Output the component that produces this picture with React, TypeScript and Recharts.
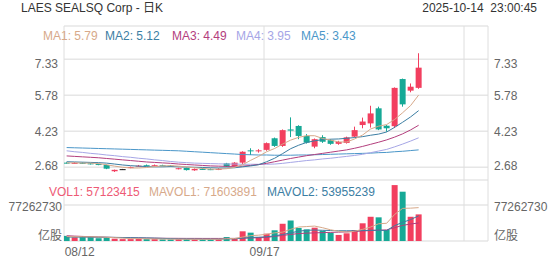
import React from "react";
import { ComposedChart, Bar, Line, XAxis, YAxis, CartesianGrid, Cell } from "recharts";

const dates = [
  "08/12", "08/13", "08/14", "08/15", "08/18", "08/19", "08/20", "08/21", "08/22",
  "08/25", "08/26", "08/27", "08/28", "08/29", "09/02", "09/03", "09/04", "09/05",
  "09/08", "09/09", "09/10", "09/11", "09/12", "09/15", "09/16", "09/17", "09/18",
  "09/19", "09/22", "09/23", "09/24", "09/25", "09/26", "09/29", "09/30", "10/01",
  "10/02", "10/03", "10/06", "10/07", "10/08", "10/09", "10/10", "10/13", "10/14",
];

const open = [
  2.88, 2.86, 2.87, 2.85, 2.82, 2.78, 2.51, 2.6, 2.66, 2.73, 2.77, 2.76, 2.77, 2.75, 2.62,
  2.65, 2.55, 2.61, 2.6, 2.58, 2.85, 2.73, 2.88, 3.41, 3.39, 3.43, 3.93, 3.6, 4.31, 4.46,
  4.03, 3.57, 3.98, 3.85, 3.69, 3.73, 4.0, 4.5, 4.57, 5.22, 4.47, 4.45, 6.48, 5.98, 6.1,
];
const high = [
  2.9, 2.9, 2.89, 2.87, 2.84, 2.8, 2.58, 2.61, 2.71, 2.78, 2.8, 2.8, 2.79, 2.77, 2.66,
  2.67, 2.63, 2.64, 2.63, 2.64, 2.87, 2.9, 3.37, 3.5, 3.46, 3.75, 3.96, 4.31, 4.83, 4.49,
  4.11, 3.92, 4.06, 3.89, 3.82, 4.0, 4.43, 4.82, 5.33, 5.29, 4.5, 6.12, 6.5, 6.29, 7.59,
];
const low = [
  2.84, 2.84, 2.83, 2.8, 2.77, 2.6, 2.48, 2.59, 2.64, 2.71, 2.73, 2.74, 2.73, 2.72, 2.59,
  2.54, 2.53, 2.57, 2.56, 2.56, 2.69, 2.71, 2.81, 3.21, 3.31, 3.39, 3.56, 3.56, 3.98, 3.89,
  3.7, 3.5, 3.73, 3.65, 3.65, 3.7, 3.97, 4.36, 4.39, 4.28, 4.21, 4.37, 5.29, 5.91, 6.06,
];
const close = [
  2.86, 2.87, 2.85, 2.82, 2.79, 2.62, 2.57, 2.6, 2.69, 2.75, 2.76, 2.77, 2.75, 2.74, 2.64,
  2.56, 2.61, 2.6, 2.59, 2.61, 2.71, 2.88, 3.35, 3.39, 3.41, 3.72, 3.6, 4.28, 4.26, 4.03,
  3.74, 3.89, 3.78, 3.69, 3.77, 3.97, 4.28, 4.65, 5.0, 4.31, 4.36, 6.1, 5.39, 6.15, 6.97,
];

const ma1 = [
  2.87, 2.87, 2.86, 2.86, 2.84, 2.79, 2.73, 2.68, 2.65, 2.65, 2.67, 2.71, 2.74, 2.75, 2.73,
  2.69, 2.66, 2.63, 2.6, 2.6, 2.62, 2.68, 2.79, 2.98, 3.15, 3.35, 3.49, 3.68, 3.85, 3.97,
  4.04, 4.04, 3.92, 3.85, 3.77, 3.77, 3.9, 4.07, 4.33, 4.45, 4.52, 4.74, 5.03, 5.34, 5.79,
];
const ma2 = [
  2.92, 2.91, 2.9, 2.89, 2.88, 2.86, 2.82, 2.78, 2.75, 2.73, 2.71, 2.7, 2.7, 2.71, 2.7,
  2.69, 2.68, 2.67, 2.66, 2.65, 2.65, 2.66, 2.7, 2.74, 2.79, 2.92, 3.07, 3.27, 3.48, 3.63,
  3.75, 3.82, 3.87, 3.89, 3.9, 3.93, 3.96, 4.0, 4.06, 4.11, 4.2, 4.4, 4.62, 4.85, 5.12,
];
const ma3 = [
  3.17, 3.15, 3.13, 3.11, 3.09, 3.06, 3.03, 3.0, 2.97, 2.94, 2.91, 2.89, 2.87, 2.85, 2.82,
  2.8, 2.78, 2.76, 2.74, 2.73, 2.72, 2.72, 2.73, 2.76, 2.8, 2.85, 2.92, 2.99, 3.06, 3.12,
  3.18, 3.23, 3.28, 3.33, 3.38, 3.43, 3.5, 3.58, 3.67, 3.76, 3.86, 3.98, 4.12, 4.29, 4.49,
];
const ma4 = [
  3.39, 3.35, 3.32, 3.28, 3.25, 3.21, 3.18, 3.14, 3.11, 3.07, 3.04, 3.0, 2.97, 2.93, 2.9,
  2.88, 2.86, 2.85, 2.84, 2.83, 2.82, 2.82, 2.81, 2.81, 2.81, 2.81, 2.82, 2.85, 2.89, 2.93,
  2.97, 3.0, 3.04, 3.07, 3.11, 3.15, 3.19, 3.24, 3.31, 3.38, 3.45, 3.56, 3.68, 3.81, 3.95,
];
const ma5 = [
  3.53, 3.52, 3.51, 3.5, 3.49, 3.48, 3.47, 3.46, 3.45, 3.44, 3.43, 3.42, 3.41, 3.4, 3.39,
  3.37, 3.35, 3.33, 3.31, 3.29, 3.27, 3.25, 3.23, 3.22, 3.21, 3.21, 3.2, 3.2, 3.2, 3.21,
  3.21, 3.22, 3.23, 3.24, 3.25, 3.26, 3.27, 3.28, 3.29, 3.31, 3.32, 3.35, 3.37, 3.4, 3.43,
];

const volume = [
  11000000, 8000000, 10000000, 9000000, 6000000, 7000000, 5000000, 4000000, 4000000,
  5000000, 4000000, 4000000, 3500000, 3500000, 4000000, 4000000, 3500000, 3500000,
  3500000, 4000000, 8500000, 5500000, 20800000, 17900000, 8600000, 15700000, 23000000,
  37000000, 44000000, 28000000, 25000000, 28600000, 22000000, 17800000, 13000000,
  16500000, 23600000, 38000000, 52000000, 50800000, 23600000, 120000000, 105800000,
  52000000, 57123415,
];
const mavol1 = [
  9500000, 9300000, 9200000, 9000000, 8800000, 8000000, 7200000, 6200000, 5200000,
  5000000, 4600000, 4300000, 4100000, 3900000, 3800000, 3800000, 3700000, 3700000,
  3700000, 3700000, 4800000, 5300000, 8500000, 11500000, 12500000, 14500000, 17500000,
  19000000, 25000000, 30000000, 31000000, 32000000, 28500000, 24000000, 21000000,
  19000000, 21000000, 25000000, 30000000, 37000000, 38000000, 57000000, 70000000,
  70500000, 71603891,
];
const mavol2 = [
  8500000, 8400000, 8300000, 8200000, 8100000, 8000000, 7800000, 7500000, 7100000,
  6900000, 6600000, 6200000, 5700000, 5000000, 4500000, 4300000, 4100000, 4000000,
  3900000, 3900000, 4400000, 4600000, 6200000, 7600000, 8100000, 9100000, 11000000,
  14000000, 17500000, 21000000, 23000000, 23500000, 23000000, 22500000, 22000000,
  22000000, 22000000, 22500000, 23000000, 23000000, 22500000, 33000000, 40000000,
  46000000, 53955239,
];
const mavol3 = [
  11300000, 10500000, 9800000, 9200000, 8600000, 8100000, 7600000, 7200000, 6900000,
  6600000, 6300000, 6100000, 5900000, 5800000, 5700000, 5600000, 5600000, 5500000,
  5500000, 5500000, 5600000, 5600000, 6100000, 6600000, 7000000, 7600000, 10000000,
  12000000, 14000000, 16000000, 16800000, 17500000, 18000000, 18500000, 19000000,
  19600000, 20500000, 21500000, 22500000, 23200000, 23800000, 28500000, 33500000,
  36500000, 38600000,
];

const priceTicks = [2.68, 4.23, 5.78, 7.33];
const volTicks = [0, 77262730];
const dateTicks = [0, 25];

const UP = "#f23f5f";
const DOWN = "#16a996";
const MA_COLORS = ["#d7a98a", "#3c7ea3", "#b33e7d", "#a6a6e6", "#4b97c9"];
const GRID = "#e6e6e6";
const FONT = '"Liberation Sans", Arial, "Noto Sans CJK SC", sans-serif';

const rows = dates.map((d, i) => ({
  i,
  date: d,
  open: open[i],
  high: high[i],
  low: low[i],
  close: close[i],
  range: [low[i], high[i]],
  ma1: ma1[i],
  ma2: ma2[i],
  ma3: ma3[i],
  ma4: ma4[i],
  ma5: ma5[i],
  vol: volume[i],
  mavol1: mavol1[i],
  mavol2: mavol2[i],
  mavol3: mavol3[i],
}));

const candleColor = (o: number, c: number) => (c > o ? UP : c < o ? DOWN : "#111");

function Candle(props: any) {
  const { x, y, width, height, payload } = props;
  const top = Math.min(y, y + height);
  const h = Math.abs(height);
  const span = payload.high - payload.low;
  const py = (v: number) => (span > 0 ? top + ((payload.high - v) / span) * h : top);
  const color = candleColor(payload.open, payload.close);
  const cx = Math.round(x + width / 2) - 0.5;
  const bTop = py(Math.max(payload.open, payload.close));
  const bBot = py(Math.min(payload.open, payload.close));
  return (
    <g>
      <line x1={cx} x2={cx} y1={top} y2={top + h} stroke={color} strokeWidth={1} />
      <rect x={x} y={bTop} width={width} height={Math.max(bBot - bTop, 1)} fill={color} />
    </g>
  );
}

const PriceTick = ({ x, y, payload, textAnchor }: any) => {
  const v = payload.value;
  const dy = v === priceTicks[3] ? 4 : v === priceTicks[0] ? -2 : 0;
  return (
    <text x={x} y={y + dy} dy="0.355em" textAnchor={textAnchor} fontSize={12} fill="#666">
      {v.toFixed(2)}
    </text>
  );
};

const VolTick = ({ x, y, payload, textAnchor }: any) => {
  const v = payload.value;
  return (
    <text x={x} y={v === 0 ? y - 5 : y + 2} dy="0.355em" textAnchor={textAnchor} fontSize={12} fill="#666">
      {v === 0 ? "亿股" : String(v)}
    </text>
  );
};

const DateTick = ({ x, y, payload }: any) => {
  const first = payload.value === 0;
  return (
    <text x={x - 2} y={y + 7} textAnchor={first ? "start" : "middle"} fontSize={12} fill="#666">
      {dates[payload.value]}
    </text>
  );
};

const xDomain = [-0.33, 52.67];
const vLines = [64, 264, 464, 488];

const label = (left: number, top: number, color: string, text: string) => (
  <div
    style={{
      position: "absolute",
      left,
      top,
      color,
      fontSize: 12,
      lineHeight: "14px",
      whiteSpace: "nowrap",
    }}
  >
    {text}
  </div>
);

export default function App() {
  return (
    <div
      style={{
        position: "absolute",
        left: 0,
        top: 0,
        width: 552,
        height: 265,
        background: "#fff",
        fontFamily: FONT,
        overflow: "hidden",
      }}
    >
      <div style={{ position: "absolute", left: 0, top: 0 }}>
        <ComposedChart width={552} height={180} data={rows} margin={{ top: 26, right: 0, bottom: 0, left: 0 }}>
          <CartesianGrid vertical={false} stroke={GRID} strokeWidth={1.5} yAxisId="p" />
          <CartesianGrid horizontal={false} verticalPoints={vLines} stroke="#dedede" />
          <XAxis xAxisId="p" dataKey="i" type="number" domain={xDomain} hide allowDataOverflow />
          <YAxis
            yAxisId="p"
            orientation="left"
            width={64}
            domain={[2.133, 8.764]}
            allowDataOverflow
            ticks={priceTicks}
            interval={0}
            axisLine={false}
            tickLine={false}
            tickSize={4}
            tick={PriceTick}
          />
          <YAxis
            yAxisId="pr"
            orientation="right"
            width={64}
            domain={[2.133, 8.764]}
            allowDataOverflow
            ticks={priceTicks}
            interval={0}
            axisLine={false}
            tickLine={false}
            tickSize={4}
            tick={PriceTick}
          />
          <Line yAxisId="p" xAxisId="p" dataKey="ma5" stroke={MA_COLORS[4]} strokeWidth={1} dot={false} isAnimationActive={false} />
          <Line yAxisId="p" xAxisId="p" dataKey="ma4" stroke={MA_COLORS[3]} strokeWidth={1} dot={false} isAnimationActive={false} />
          <Line yAxisId="p" xAxisId="p" dataKey="ma3" stroke={MA_COLORS[2]} strokeWidth={1} dot={false} isAnimationActive={false} />
          <Line yAxisId="p" xAxisId="p" dataKey="ma2" stroke={MA_COLORS[1]} strokeWidth={1} dot={false} isAnimationActive={false} />
          <Line yAxisId="p" xAxisId="p" dataKey="ma1" stroke={MA_COLORS[0]} strokeWidth={1} dot={false} isAnimationActive={false} />
          <Bar yAxisId="p" xAxisId="p" dataKey="range" barSize={6} shape={Candle} isAnimationActive={false} />
        </ComposedChart>
      </div>

      <div style={{ position: "absolute", left: 0, top: 180 }}>
        <ComposedChart width={552} height={85} data={rows} margin={{ top: 0, right: 0, bottom: 0, left: 0 }}>
          <CartesianGrid vertical={false} stroke={GRID} strokeWidth={1.5} yAxisId="v" xAxisId="v" />
          <CartesianGrid horizontal={false} verticalPoints={vLines} stroke="#dedede" xAxisId="v" yAxisId="v" />
          <XAxis
            xAxisId="v"
            dataKey="i"
            type="number"
            domain={xDomain}
            allowDataOverflow
            ticks={dateTicks}
            interval={0}
            height={24}
            axisLine={false}
            tickLine={false}
            tick={DateTick}
          />
          <YAxis
            yAxisId="v"
            orientation="left"
            width={64}
            domain={[0, 130917403]}
            allowDataOverflow
            ticks={volTicks}
            interval={0}
            axisLine={false}
            tickLine={false}
            tickSize={0}
            tick={VolTick}
          />
          <YAxis
            yAxisId="vr"
            orientation="right"
            width={64}
            domain={[0, 130917403]}
            allowDataOverflow
            ticks={volTicks}
            interval={0}
            axisLine={false}
            tickLine={false}
            tickSize={4}
            tick={VolTick}
          />
          <Bar yAxisId="v" xAxisId="v" dataKey="vol" barSize={6} isAnimationActive={false}>
            {rows.map((r, i) => (
              <Cell key={i} fill={r.close < r.open ? DOWN : UP} />
            ))}
          </Bar>
          <Line yAxisId="v" xAxisId="v" dataKey="mavol3" stroke={MA_COLORS[2]} strokeWidth={1} dot={false} isAnimationActive={false} />
          <Line yAxisId="v" xAxisId="v" dataKey="mavol2" stroke={MA_COLORS[1]} strokeWidth={1} dot={false} isAnimationActive={false} />
          <Line yAxisId="v" xAxisId="v" dataKey="mavol1" stroke={MA_COLORS[0]} strokeWidth={1} dot={false} isAnimationActive={false} />
        </ComposedChart>
      </div>

      {label(21, 1, "#333", "LAES SEALSQ Corp - 日K")}
      <div
        style={{
          position: "absolute",
          right: 15,
          top: 1,
          color: "#333",
          fontSize: 12,
          lineHeight: "14px",
          whiteSpace: "pre",
        }}
      >
        {"2025-10-14  23:00:45"}
      </div>
      {label(43, 29, MA_COLORS[0], "MA1: 5.79")}
      {label(105, 29, MA_COLORS[1], "MA2: 5.12")}
      {label(172, 29, MA_COLORS[2], "MA3: 4.49")}
      {label(236, 29, MA_COLORS[3], "MA4: 3.95")}
      {label(301, 29, MA_COLORS[4], "MA5: 3.43")}
      {label(49, 185, "#ee5a75", "VOL1: 57123415")}
      {label(149, 185, MA_COLORS[0], "MAVOL1: 71603891")}
      {label(267, 185, MA_COLORS[1], "MAVOL2: 53955239")}
    </div>
  );
}
